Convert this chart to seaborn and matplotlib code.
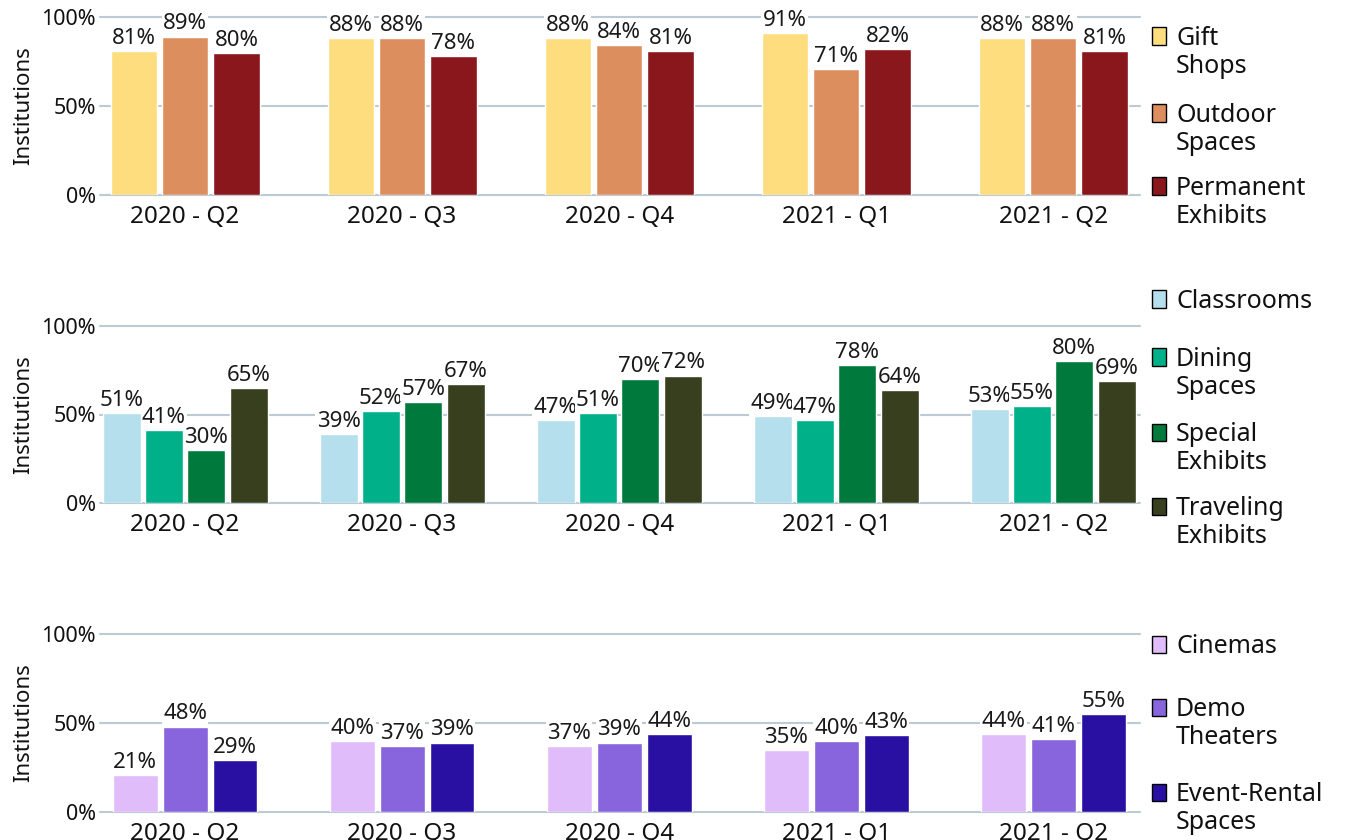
import matplotlib
matplotlib.use("Agg")
import matplotlib.pyplot as plt
import seaborn as sns
import pandas as pd
from matplotlib.patches import Rectangle

# data (percent of institutions)
quarters = ["2020 - Q2", "2020 - Q3", "2020 - Q4", "2021 - Q1", "2021 - Q2"]

gift_shops = [81, 88, 88, 91, 88]
outdoor_spaces = [89, 88, 84, 71, 88]
permanent_exhibits = [80, 78, 81, 82, 81]

classrooms = [51, 39, 47, 49, 53]
dining_spaces = [41, 52, 51, 47, 55]
special_exhibits = [30, 57, 70, 78, 80]
traveling_exhibits = [65, 67, 72, 64, 69]

cinemas = [21, 40, 37, 35, 44]
demo_theaters = [48, 37, 39, 40, 41]
event_rental = [29, 39, 44, 43, 55]

panels = [
    {
        "names": ["Gift\nShops", "Outdoor\nSpaces", "Permanent\nExhibits"],
        "values": [gift_shops, outdoor_spaces, permanent_exhibits],
        "colors": ["#FEDD7F", "#DD8E5F", "#8A171B"],
        "width": 0.71, "top": 17, "bottom": 195,
        "legend_y": [36, 113, 186],
    },
    {
        "names": ["Classrooms", "Dining\nSpaces", "Special\nExhibits", "Traveling\nExhibits"],
        "values": [classrooms, dining_spaces, special_exhibits, traveling_exhibits],
        "colors": ["#B5DFEC", "#00B088", "#007A3C", "#383F1E"],
        "width": 0.78, "top": 326, "bottom": 503,
        "legend_y": [299, 357, 432, 506],
    },
    {
        "names": ["Cinemas", "Demo\nTheaters", "Event-Rental\nSpaces"],
        "values": [cinemas, demo_theaters, event_rental],
        "colors": ["#E0BCFA", "#8865DC", "#2A10A2"],
        "width": 0.69, "top": 634, "bottom": 812,
        "legend_y": [644, 707, 792],
    },
]

sns.set_theme(style="white")
plt.rcParams["font.family"] = ["Noto Sans", "DejaVu Sans"]

W, H = 1347, 840
fig = plt.figure(figsize=(W / 100, H / 100), dpi=100)
grid_color = "#BCCAD6"
line_px = 28  # legend line pitch in pixels

for p in panels:
    ax = fig.add_axes([100 / W, 1 - p["bottom"] / H, 1040 / W, (p["bottom"] - p["top"]) / H])

    rows = []
    for name, vals in zip(p["names"], p["values"]):
        for q, v in zip(quarters, vals):
            rows.append({"quarter": q, "series": name, "value": v})
    df = pd.DataFrame(rows)

    sns.barplot(data=df, x="quarter", y="value", hue="series", order=quarters,
                hue_order=p["names"], palette=p["colors"], width=p["width"], gap=0.1,
                saturation=1, edgecolor="white", linewidth=1, legend=False, ax=ax)

    for c in ax.containers:
        ax.bar_label(c, fmt="%d%%", padding=1.5, fontsize=16, color="#1a1a1a",
                     bbox=dict(boxstyle="square,pad=0.06", fc="white", ec="none"))

    ax.set_ylim(0, 100)
    ax.set_xlim(-0.392, 4.40)
    ax.set_yticks([0, 50, 100])
    ax.set_yticklabels(["0%", "50%", "100%"])
    ax.grid(axis="y", color=grid_color, linewidth=1.5)
    for gl in ax.get_ygridlines():
        gl.set_clip_on(False)
    ax.set_axisbelow(True)
    sns.despine(ax=ax, left=True, bottom=True)
    ax.tick_params(axis="x", length=0, pad=7, labelsize=17.5, labelcolor="#111111")
    ax.tick_params(axis="y", length=0, pad=3, labelsize=15.5, labelcolor="#111111")
    ax.set_xlabel("")
    ax.set_ylabel("Institutions", fontsize=16, color="#111111")
    ax.yaxis.set_label_coords(-66 / 1040, 0.5)

    # legend on the right, swatch aligned with the first text line
    for name, col, yc in zip(p["names"], p["colors"], p["legend_y"]):
        fig.patches.append(Rectangle((1152 / W, 1 - (yc + 8.5) / H), 14 / W, 17 / H,
                                     transform=fig.transFigure, facecolor=col,
                                     edgecolor="black", linewidth=1))
        for i, line in enumerate(name.split("\n")):
            fig.text(1176 / W, 1 - (yc + 9 + i * line_px) / H, line, fontsize=18,
                     va="baseline", ha="left", color="#111111")

fig.savefig("out.png", dpi=100)
